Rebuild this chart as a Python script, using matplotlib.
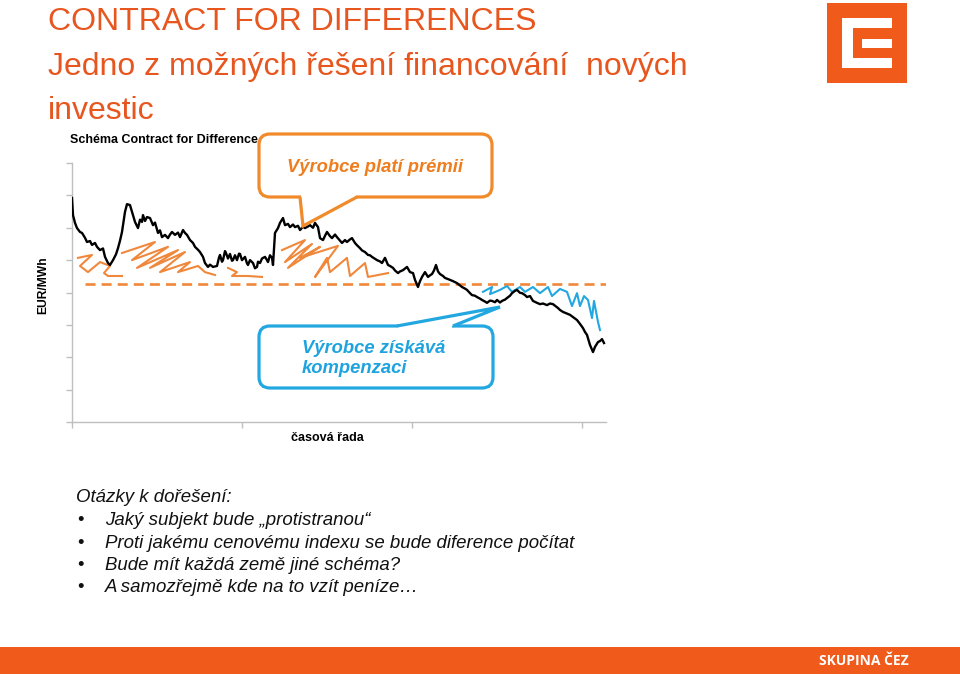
import matplotlib
matplotlib.use('Agg')
import matplotlib.pyplot as plt
from matplotlib.patches import FancyBboxPatch, Polygon, Rectangle

# ---------------- data ----------------
# (time index in days, price in EUR/MWh)
price_points = [
    (0, 69.2), (1, 63.9), (3, 61.5), (5, 59.9), (8, 58.7), (10, 58.4), (13, 56.9),
    (15, 55.6), (18, 55.9), (20, 54.7), (23, 55.3), (25, 54.1), (28, 53.1), (31, 53.6),
    (33, 51.0), (36, 49.1), (38, 48.5), (41, 50.0), (44, 51.8), (46, 53.7), (48, 56.0),
    (50, 58.7), (53, 64.9), (55, 67.3), (58, 67.0), (60, 64.9), (63, 61.8), (66, 59.9),
    (68, 62.5), (70, 61.8), (71, 63.9), (73, 62.1), (75, 63.3), (78, 63.0), (81, 60.8),
    (83, 61.6), (86, 58.4), (88, 59.2), (90, 57.1), (93, 57.8), (96, 56.8), (98, 57.9),
    (100, 58.7), (103, 57.8), (106, 58.5), (108, 57.1), (111, 59.3), (113, 58.4),
    (115, 57.8), (118, 56.2), (121, 55.3), (123, 54.1), (126, 53.2), (128, 52.5),
    (131, 51.0), (133, 49.1), (136, 47.9), (138, 48.6), (141, 47.9), (145, 48.2),
    (147, 50.8), (148, 51.6), (150, 49.5), (151, 50.0), (153, 52.8), (154, 52.2),
    (156, 50.5), (158, 51.9), (160, 49.8), (161, 50.0), (163, 51.5), (165, 50.0),
    (167, 52.0), (168, 51.9), (170, 50.0), (173, 51.0), (175, 49.0), (176, 48.5),
    (178, 50.0), (181, 49.1), (183, 47.5), (185, 47.9), (186, 49.5), (188, 49.1),
    (190, 50.5), (193, 51.0), (195, 50.0), (196, 49.4), (198, 51.5), (200, 50.7),
    (201, 48.5), (203, 58.4), (206, 59.9), (208, 61.5), (211, 63.0), (213, 60.8),
    (216, 61.2), (218, 60.2), (221, 61.0), (223, 60.2), (226, 60.6), (228, 59.3),
    (231, 60.3), (233, 59.9), (236, 60.4), (238, 60.8), (241, 60.0), (243, 61.5),
    (246, 60.2), (248, 56.8), (251, 56.2), (253, 57.5), (255, 58.7), (258, 57.4),
    (260, 56.8), (263, 57.9), (265, 57.1), (268, 56.0), (270, 55.3), (273, 56.2),
    (275, 55.6), (278, 56.4), (280, 56.8), (283, 55.3), (285, 54.6), (288, 53.7),
    (290, 53.0), (293, 52.5), (296, 51.6), (298, 51.5), (300, 51.0), (303, 50.4),
    (305, 50.0), (308, 49.6), (310, 49.1), (313, 50.7), (316, 48.5), (318, 48.2),
    (321, 47.6), (323, 46.8), (326, 46.0), (328, 46.5), (331, 46.9), (333, 47.4),
    (335, 47.9), (338, 46.3), (341, 46.0), (343, 43.9), (346, 41.7), (348, 43.5),
    (350, 44.8), (353, 46.3), (356, 44.8), (358, 45.3), (360, 45.7), (362, 46.8),
    (364, 48.5), (366, 46.5), (368, 45.7), (371, 45.1), (373, 44.5), (378, 43.9),
    (381, 43.5), (385, 42.9), (388, 42.2), (390, 41.7), (393, 41.2), (395, 40.8),
    (398, 39.8), (400, 39.2), (403, 39.0), (405, 38.6), (408, 38.1), (410, 37.7),
    (413, 37.2), (415, 36.8), (418, 37.5), (420, 37.4), (423, 37.0), (425, 37.7),
    (428, 36.9), (430, 37.4), (433, 37.8), (435, 38.3), (438, 39.0), (440, 39.8),
    (443, 40.5), (445, 40.8), (448, 39.9), (450, 39.8), (453, 39.2), (455, 38.6),
    (458, 38.9), (461, 37.4), (465, 36.8), (468, 36.4), (471, 36.6), (475, 36.1),
    (478, 36.6), (481, 36.4), (486, 35.2), (488, 34.6), (491, 34.0), (495, 33.5),
    (498, 33.1), (501, 32.4), (505, 31.5), (508, 30.3), (511, 29.0), (513, 27.8),
    (515, 26.9), (518, 23.8), (521, 21.6), (523, 23.2), (526, 24.7), (528, 25.0),
    (530, 25.6), (532, 24.4)]
days = [d for d, _ in price_points]
price = [p for _, p in price_points]

strike_days = [13, 535]
strike_price = 42.6

# hand-drawn hatching: producer pays the premium (above the strike)
premium_a_days = [6, 20, 8, 16, 28, 38, 32, 36, 50]
premium_a_price = [50.7, 51.6, 48.2, 46.3, 49.4, 48.2, 46.0, 45.1, 45.1]
premium_b_days = [50, 83, 60, 96, 65, 106, 78, 113, 88, 118, 106, 126, 133, 143]
premium_b_price = [52.2, 55.6, 50.0, 54.1, 47.6, 53.1, 47.6, 52.5, 46.3, 49.4, 46.3,
                   48.2, 46.3, 45.4]
premium_c_days = [156, 165, 160, 176, 190]
premium_c_price = [47.6, 46.3, 45.1, 45.1, 44.8]
premium_d_days = [210, 233, 213, 240, 216, 248, 228, 266, 243, 255, 258, 275, 278, 293,
                  296, 316]
premium_d_price = [53.1, 56.2, 49.4, 55.0, 47.6, 54.1, 50.7, 54.4, 44.8, 50.7, 46.3,
                   50.7, 45.1, 49.1, 44.8, 46.0]
# producer receives compensation (below the strike)
comp_days = [411, 420, 418, 428, 435, 440, 448, 453, 461, 468, 476, 480, 488, 495, 500,
             505, 508, 512, 516, 520, 522, 526, 528]
comp_price = [40.2, 41.7, 39.5, 40.8, 42.0, 40.2, 41.7, 40.2, 41.7, 39.8, 41.7, 38.9,
              41.1, 40.2, 35.8, 39.8, 35.8, 38.9, 37.7, 32.1, 37.4, 30.9, 28.4]

x_ticks = [0, 170, 340, 510]
y_ticks = [0, 10, 20, 30, 40, 50, 60, 70, 80]

title_lines = ["CONTRACT FOR DIFFERENCES", "Jedno z možných řešení financování  nových",
               "investic"]
chart_title = "Schéma Contract for Difference"
y_label = "EUR/MWh"
x_label = "časová řada"
premium_text = "Výrobce platí prémii"
comp_text = "Výrobce získává\nkompenzaci"
questions_head = "Otázky k dořešení:"
questions = ["Jaký subjekt bude „protistranou“",
             "Proti jakému cenovému indexu se bude diference počítat",
             "Bude mít každá země jiné schéma?",
             "A samozřejmě kde na to vzít peníze…"]
footer = "SKUPINA ČEZ"

# ---------------- styling ----------------
ORANGE_T = '#E8561F'
ORANGE_L = '#F0883C'
ORANGE_C = '#F08A2A'
BLUE = '#22A7E0'
CEZ = '#F05A1A'
AXC = '#BFBFBF'
FONT = 'Liberation Sans'

W, H = 960, 674
fig = plt.figure(figsize=(9.6, 6.74), dpi=100)
fig.patch.set_facecolor('white')


def fx(x):
    return x / W


def fy(y):
    return 1 - y / H


ax = fig.add_axes([fx(72), fy(422), fx(606) - fx(72), fy(163) - fy(422)])
ax.set_xlim(0, 534)
ax.set_ylim(0, 80)
ax.plot(strike_days, [strike_price, strike_price], color=ORANGE_L, lw=1.9,
        ls=(0, (3.8, 2.3)), zorder=2)
for d, p in [(premium_a_days, premium_a_price), (premium_b_days, premium_b_price),
             (premium_c_days, premium_c_price), (premium_d_days, premium_d_price)]:
    ax.plot(d, p, color=ORANGE_L, lw=1.5, solid_joinstyle='round', zorder=2)
ax.plot(comp_days, comp_price, color=BLUE, lw=1.5, solid_joinstyle='round', zorder=2)
ax.plot(days, price, color='black', lw=1.7, zorder=3)
ax.set_xticks(x_ticks)
ax.set_yticks(y_ticks)
ax.set_xticklabels([])
ax.set_yticklabels([])
for s in ['top', 'right']:
    ax.spines[s].set_visible(False)
for s in ['left', 'bottom']:
    ax.spines[s].set_color(AXC)
    ax.spines[s].set_linewidth(1.0)
ax.tick_params(colors=AXC, length=4, width=1, direction='out')
ax.patch.set_alpha(0)

# overlay in pixel coordinates
ov = fig.add_axes([0, 0, 1, 1], zorder=5)
ov.set_xlim(0, W)
ov.set_ylim(H, 0)
ov.axis('off')
ov.patch.set_alpha(0)


def callout(x0, y0, x1, y1, base_a, tip, base_b, color, inside):
    r = 11
    box = FancyBboxPatch((x0 + r, y0 + r), (x1 - x0) - 2 * r, (y1 - y0) - 2 * r,
                         boxstyle=f"round,pad={r}", fc='white', ec=color, lw=2.3,
                         zorder=1)
    ov.add_patch(box)
    yb = base_a[1]
    gap = Polygon([(base_a[0] + 1, inside), (base_a[0] + 1, yb), tip,
                   (base_b[0] - 1, yb), (base_b[0] - 1, inside)],
                  closed=True, fc='white', ec='none', zorder=2)
    ov.add_patch(gap)
    ov.plot([base_a[0], tip[0], base_b[0]], [base_a[1], tip[1], base_b[1]],
            color=color, lw=2.3, solid_joinstyle='miter', solid_capstyle='butt',
            zorder=3)


callout(259, 134, 492, 197, (300, 197), (303, 226), (357, 197), ORANGE_C, 193)
ov.text(375, 167, premium_text, ha='center', va='center', fontsize=13.2,
        fontstyle='italic', fontweight='bold', color='#EE7D1E', family=FONT, zorder=4)
callout(259, 326, 493, 388, (397, 326), (500, 307), (453, 326), BLUE, 330)
ov.text(302, 358.5, comp_text, ha='left', va='center', fontsize=13.2,
        fontstyle='italic', fontweight='bold', color='#1FA3DE', family=FONT,
        linespacing=1.3, zorder=4)

# titles
for txt, yb in zip(title_lines, [30, 75, 119]):
    ov.text(48, yb, txt, ha='left', va='baseline', fontsize=23, color=ORANGE_T,
            family=FONT)
ov.text(70, 143, chart_title, ha='left', va='baseline', fontsize=9, fontweight='bold',
        color='black', family=FONT)
ov.text(43, 285, y_label, ha='center', va='center', rotation=90, fontsize=8.7,
        fontweight='bold', color='black', family=FONT)
ov.text(327, 438, x_label, ha='center', va='center', fontsize=9, fontweight='bold',
        color='black', family=FONT)

# questions
ov.text(76, 498, questions_head, ha='left', va='center', fontsize=13.4,
        fontstyle='italic', color='#111111', family=FONT)
for i, q in enumerate(questions):
    y = 520.5 + i * 22.5
    ov.text(77, y, '•', ha='left', va='center', fontsize=13.4, color='#111111',
            family=FONT)
    ov.text(105, y, q, ha='left', va='center', fontsize=13.4, fontstyle='italic',
            color='#111111', family=FONT)

# logo
ov.add_patch(Rectangle((827, 3), 80, 80, fc=CEZ, ec='none'))
ov.add_patch(Rectangle((842, 18), 50, 50, fc='white', ec='none'))
ov.add_patch(Rectangle((853, 28), 39, 30, fc=CEZ, ec='none'))
ov.add_patch(Rectangle((862, 39), 30, 9, fc='white', ec='none'))

# footer band
ov.add_patch(Rectangle((0, 647), W, 27, fc=CEZ, ec='none'))
ov.text(864, 661, footer, ha='center', va='center', fontsize=10, fontweight='bold',
        color='white', family='Open Sans')

fig.savefig('out.png', dpi=100, facecolor='white')
